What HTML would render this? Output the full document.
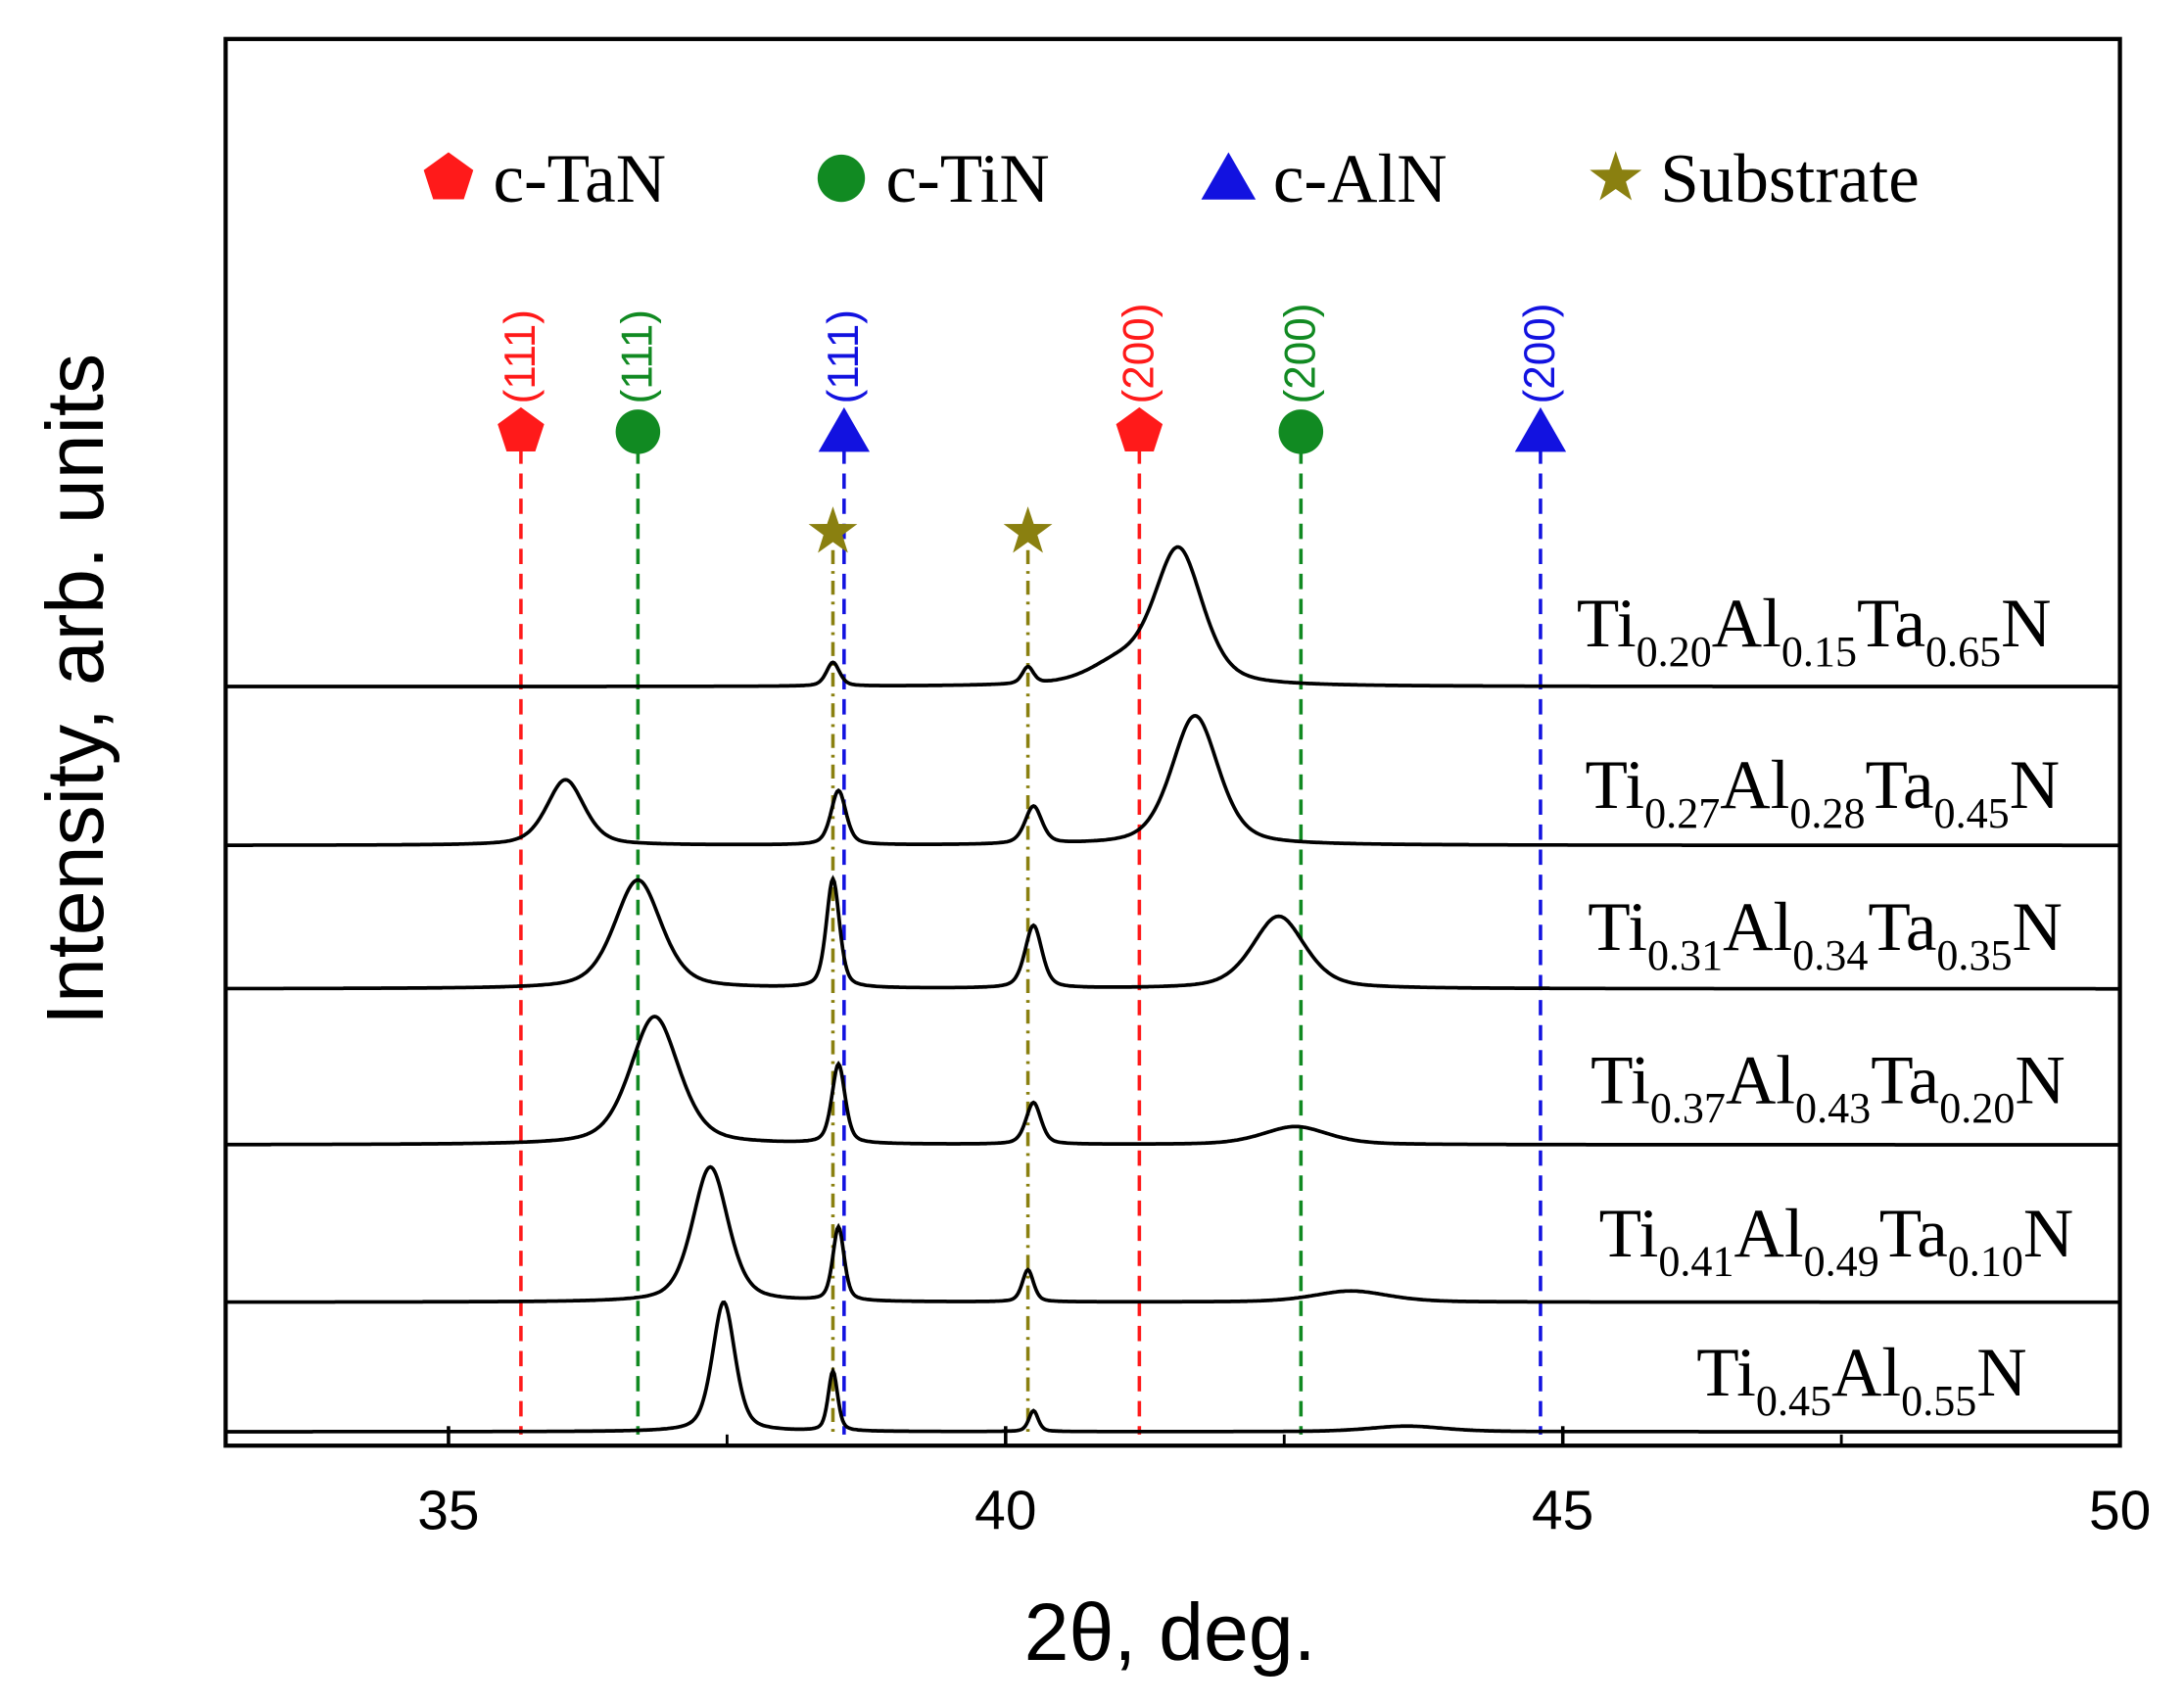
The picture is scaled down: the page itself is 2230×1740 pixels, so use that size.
<!DOCTYPE html>
<html><head><meta charset="utf-8"><style>
html,body{margin:0;padding:0;background:#fff}
svg{display:block}
text{font-family:"Liberation Serif",serif}
.sans{font-family:"Liberation Sans",sans-serif}
</style></head><body>
<svg id="chart" width="2230" height="1740" viewBox="0 0 1568 1223.5" preserveAspectRatio="none" xmlns="http://www.w3.org/2000/svg">
<rect x="0" y="0" width="1568" height="1224" fill="#fff"/>
<g id="refs"></g>
<g id="series"></g>
<g id="labels"></g>
<rect x="162" y="28" width="1360" height="1010" fill="none" stroke="#000" stroke-width="3"/>
<g id="axis"></g>
<text class="sans" x="840" y="1192" font-size="58" text-anchor="middle">2θ, deg.</text>
<text class="sans" transform="translate(74,495) rotate(-90)" font-size="58" text-anchor="middle">Intensity, arb. units</text>
<g id="legend"></g>
</svg>
<script>
const xTicks=[35,40,45,50];
const sampleNames=[["Ti","0.20","Al","0.15","Ta","0.65","N"],["Ti","0.27","Al","0.28","Ta","0.45","N"],["Ti","0.31","Al","0.34","Ta","0.35","N"],["Ti","0.37","Al","0.43","Ta","0.20","N"],["Ti","0.41","Al","0.49","Ta","0.10","N"],["Ti","0.45","Al","0.55","N"]];
const baselines=[493,607,710,822,935,1028];
const labelPos=[[1132,464],[1138,580],[1140,682],[1142,792],[1148,902],[1218,1002]];
// peaks: [center deg, height, hwhm deg]
const peaks0=[[38.45,17,0.07],[40.2,12,0.06],[41.55,98,0.26],[41.0,14,0.3]];
const peaks1=[[36.05,47,0.2],[38.5,39,0.08],[40.25,27,0.09],[41.7,93,0.25]];
const peaks2=[[36.7,78,0.25],[38.45,78,0.07],[40.25,45,0.09],[42.45,52,0.28]];
const peaks3=[[36.85,92,0.26],[38.5,57,0.07],[40.25,30,0.08],[42.6,13,0.35]];
const peaks4=[[37.35,97,0.19],[38.5,53,0.06],[40.2,23,0.06],[43.1,8,0.4]];
const peaks5=[[37.47,93,0.12],[38.45,43,0.05],[40.25,15,0.05],[43.6,4,0.4]];
const allPeaks=[peaks0,peaks1,peaks2,peaks3,peaks4,peaks5];
const refPos=[35.65,36.7,38.55,41.2,42.65,44.8];
const refColor=["#ff1a1a","#118a22","#1212e0","#ff1a1a","#118a22","#1212e0"];
const refShape=["pent","circ","tri","pent","circ","tri"];
const refLabel=["(111)","(111)","(111)","(200)","(200)","(200)"];
const subPos=[38.45,40.2];
const legendItems=["c-TaN","c-TiN","c-AlN","Substrate"];
const legendX=[322,604,882,1160];

const NS="http://www.w3.org/2000/svg";
const X=v=>162+(v-33)*80;
function mk(tag,attrs,parent){const e=document.createElementNS(NS,tag);for(const k in attrs)e.setAttribute(k,attrs[k]);parent.appendChild(e);return e;}
function marker(shape,cx,cy,color,parent,r){
  let e;
  if(shape==="circ") e=mk("circle",{cx,cy,r:r,fill:color},parent);
  else if(shape==="tri") e=mk("polygon",{points:`${cx},${cy-r*1.1} ${cx+r*1.15},${cy+r*0.9} ${cx-r*1.15},${cy+r*0.9}`,fill:color},parent);
  else if(shape==="pent"){let p=[];for(let i=0;i<5;i++){const a=-Math.PI/2+i*2*Math.PI/5;p.push((cx+r*1.1*Math.cos(a)).toFixed(1)+","+(cy+r*1.1*Math.sin(a)).toFixed(1));}e=mk("polygon",{points:p.join(" "),fill:color},parent);}
  else {let p=[];for(let i=0;i<10;i++){const a=-Math.PI/2+i*Math.PI/5;const rr=i%2?r*0.45:r*1.15;p.push((cx+rr*Math.cos(a)).toFixed(1)+","+(cy+rr*Math.sin(a)).toFixed(1));}e=mk("polygon",{points:p.join(" "),fill:color},parent);}
  return e;
}
const refs=document.getElementById("refs");
refPos.forEach((d,i)=>{
  const x=X(d);
  const l=mk("line",{x1:x,y1:322,x2:x,y2:1030,stroke:refColor[i],"stroke-width":2.5,"stroke-dasharray":"11,7"},refs);
  
  
  const m=marker(refShape[i],x,310,refColor[i],refs,16);
  
  
  const t=mk("text",{transform:`translate(${x+10},290) rotate(-90)`,fill:refColor[i],"font-size":31,class:"sans"},refs);
  t.textContent=refLabel[i];
  
  
});
subPos.forEach(d=>{
  const x=X(d);
  const l=mk("line",{x1:x,y1:395,x2:x,y2:1030,stroke:"#8a8010","stroke-width":2.5,"stroke-dasharray":"10,5,2,5"},refs);
  
  
  const m=marker("star",x,382,"#8a8010",refs,16);
  
  
});
const sg=document.getElementById("series");
allPeaks.forEach((pk,si)=>{
  let d="";
  for(let px=163;px<=1521;px+=1){
    const v=33+(px-162)/80;let y=0;
    pk.forEach(p=>{const z=(v-p[0])/p[2];y+=p[1]*(0.45/(1+z*z)+0.55*Math.exp(-0.693*z*z));});
    d+=(px===163?"M":"L")+px+","+(baselines[si]-y).toFixed(1);
  }
  const path=mk("path",{d,fill:"none",stroke:"#000","stroke-width":2.6},sg);
  
  
});
const lg=document.getElementById("labels");
sampleNames.forEach((parts,i)=>{
  const t=mk("text",{x:labelPos[i][0],y:labelPos[i][1],"font-size":50},lg);
  
  
  parts.forEach((p,j)=>{
    const s=mk("tspan",{},t);
    if(j%2===1){s.setAttribute("font-size","31");s.setAttribute("dy","14");}
    else if(j>0){s.setAttribute("dy","-14");}
    s.textContent=p;
  });
});
const ax=document.getElementById("axis");
xTicks.forEach(v=>{
  const x=X(v);
  const tk=mk("line",{x1:x,y1:1038,x2:x,y2:1024,stroke:"#000","stroke-width":2.5},ax);
  
  
  const t=mk("text",{x,y:1098,"font-size":40,"text-anchor":"middle",class:"sans"},ax);
  t.textContent=v;
  
  
});
[37.5,42.5,47.5].forEach(v=>{const tk=mk("line",{x1:X(v),y1:1038,x2:X(v),y2:1030,stroke:"#000","stroke-width":2},ax);
  
  });
const leg=document.getElementById("legend");
const lcol=["#ff1a1a","#118a22","#1212e0","#8a8010"];const lsh=["pent","circ","tri","star"];
legendItems.forEach((n,i)=>{
  const m=marker(lsh[i],legendX[i],128,lcol[i],leg,17);
  
  
  const t=mk("text",{x:legendX[i]+32,y:145,"font-size":50},leg);
  t.textContent=n;
  
  
});
</script>
</body></html>
